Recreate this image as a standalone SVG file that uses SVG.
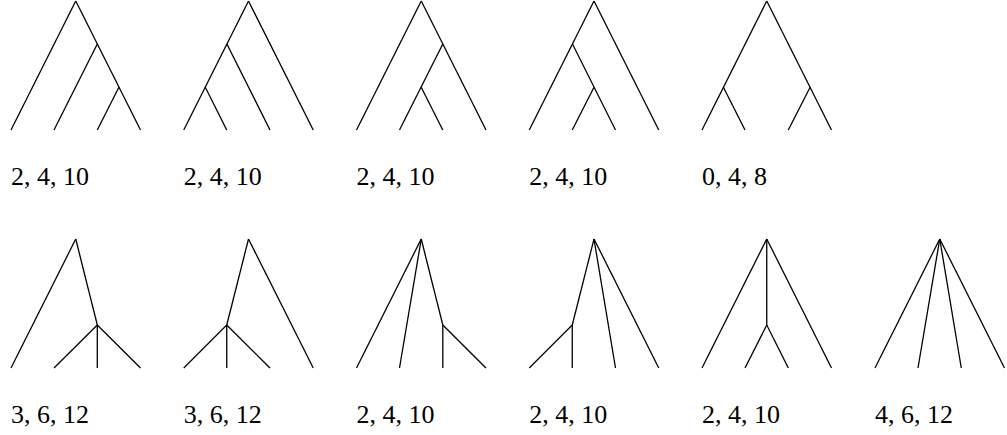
<svg xmlns="http://www.w3.org/2000/svg" width="1007" height="435" viewBox="0 0 1007 435">
<style>
line{stroke:#000;stroke-width:1.3;stroke-linecap:butt}
text{font-family:"Liberation Serif","Times New Roman",serif;font-size:26px;fill:#000}
</style>
<rect width="1007" height="435" fill="#fff"/>
<g id="tree-top-1">
<line x1="75.75" y1="1" x2="11" y2="130"/>
<line x1="75.75" y1="1" x2="140.5" y2="130"/>
<line x1="97.3" y1="44" x2="54" y2="130"/>
<line x1="118.9" y1="87.2" x2="97.3" y2="130"/>
<text x="11" y="185">2, 4, 10</text>
</g>
<g id="tree-top-2">
<line x1="248.5" y1="1" x2="183.75" y2="130"/>
<line x1="248.5" y1="1" x2="313.25" y2="130"/>
<line x1="226.9" y1="44" x2="270" y2="130"/>
<line x1="205.3" y1="87.2" x2="226.75" y2="130"/>
<text x="183.75" y="185">2, 4, 10</text>
</g>
<g id="tree-top-3">
<line x1="421.25" y1="1" x2="356.5" y2="130"/>
<line x1="421.25" y1="1" x2="486" y2="130"/>
<line x1="442.8" y1="44" x2="399.5" y2="130"/>
<line x1="421.2" y1="87.2" x2="442.8" y2="130"/>
<text x="356.5" y="185">2, 4, 10</text>
</g>
<g id="tree-top-4">
<line x1="594" y1="1" x2="529.25" y2="130"/>
<line x1="594" y1="1" x2="658.75" y2="130"/>
<line x1="572.5" y1="44" x2="615.5" y2="130"/>
<line x1="594" y1="87.2" x2="572.25" y2="130"/>
<text x="529.25" y="185">2, 4, 10</text>
</g>
<g id="tree-top-5">
<line x1="766.75" y1="1" x2="702" y2="130"/>
<line x1="766.75" y1="1" x2="831.5" y2="130"/>
<line x1="723.4" y1="87.2" x2="745" y2="130"/>
<line x1="810.1" y1="87.2" x2="788.3" y2="130"/>
<text x="702" y="185">0, 4, 8</text>
</g>
<g id="tree-bottom-1">
<line x1="75.75" y1="239" x2="11" y2="368"/>
<line x1="75.75" y1="239" x2="97.3" y2="325"/>
<line x1="97.3" y1="325" x2="54" y2="368"/>
<line x1="97.3" y1="325" x2="97.3" y2="368"/>
<line x1="97.3" y1="325" x2="140.5" y2="368"/>
<text x="11" y="423">3, 6, 12</text>
</g>
<g id="tree-bottom-2">
<line x1="248.5" y1="239" x2="313.25" y2="368"/>
<line x1="248.5" y1="239" x2="226.75" y2="325"/>
<line x1="226.75" y1="325" x2="183.75" y2="368"/>
<line x1="226.75" y1="325" x2="226.75" y2="368"/>
<line x1="226.75" y1="325" x2="270" y2="368"/>
<text x="183.75" y="423">3, 6, 12</text>
</g>
<g id="tree-bottom-3">
<line x1="421.25" y1="239" x2="356.5" y2="368"/>
<line x1="421.25" y1="239" x2="399.5" y2="368"/>
<line x1="421.25" y1="239" x2="442.8" y2="325"/>
<line x1="442.8" y1="325" x2="442.8" y2="368"/>
<line x1="442.8" y1="325" x2="486" y2="368"/>
<text x="356.5" y="423">2, 4, 10</text>
</g>
<g id="tree-bottom-4">
<line x1="594" y1="239" x2="572.25" y2="325"/>
<line x1="594" y1="239" x2="615.5" y2="368"/>
<line x1="594" y1="239" x2="658.75" y2="368"/>
<line x1="572.25" y1="325" x2="529.25" y2="368"/>
<line x1="572.25" y1="325" x2="572.25" y2="368"/>
<text x="529.25" y="423">2, 4, 10</text>
</g>
<g id="tree-bottom-5">
<line x1="766.75" y1="239" x2="702" y2="368"/>
<line x1="766.75" y1="239" x2="831.5" y2="368"/>
<line x1="766.75" y1="239" x2="766.75" y2="325"/>
<line x1="766.75" y1="325" x2="745" y2="368"/>
<line x1="766.75" y1="325" x2="788.3" y2="368"/>
<text x="702" y="423">2, 4, 10</text>
</g>
<g id="tree-bottom-6">
<line x1="939.75" y1="239" x2="875" y2="368"/>
<line x1="939.75" y1="239" x2="918" y2="368"/>
<line x1="939.75" y1="239" x2="961.3" y2="368"/>
<line x1="939.75" y1="239" x2="1004.5" y2="368"/>
<text x="875" y="423">4, 6, 12</text>
</g>
</svg>
